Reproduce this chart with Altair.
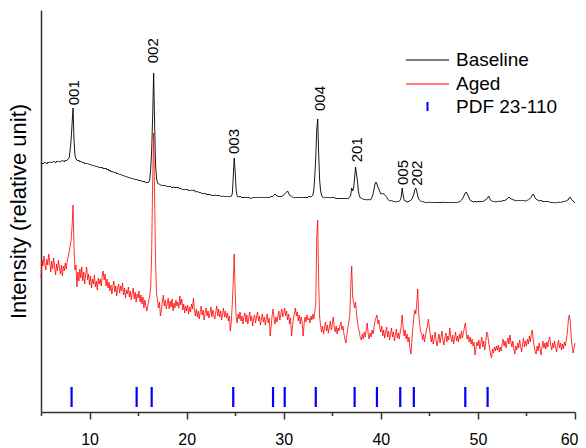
import altair as alt
import numpy as np
import pandas as pd

# 2-theta grid of the scan (degrees)
two_theta_start = 5.0
two_theta_step = 0.1

# Baseline sample, relative intensity, one row per degree (x.0 ... x.9)
baseline_intensity = [
    248, 249, 248, 249, 250, 249, 248, 250, 249, 250,  # 5
    250, 249, 250, 251, 250, 249, 251, 250, 251, 250,  # 6
    250, 251, 252, 251, 250, 252, 251, 252, 253, 254,  # 7
    262, 272, 288, 304, 272, 257, 253, 252, 251, 252,  # 8
    250, 251, 250, 249, 250, 248, 249, 248, 249, 248,  # 9
    247, 248, 247, 246, 247, 246, 246, 245, 246, 245,  # 10
    244, 245, 244, 245, 243, 244, 243, 244, 242, 243,  # 11
    241, 242, 240, 241, 240, 240, 239, 240, 238, 239,  # 12
    238, 237, 238, 237, 236, 237, 236, 235, 236, 235,  # 13
    234, 235, 234, 233, 234, 233, 233, 232, 233, 232,  # 14
    232, 231, 232, 231, 231, 230, 231, 230, 229, 230,  # 15
    229, 230, 232, 243, 262, 295, 339, 290, 246, 234,  # 16
    229, 228, 228, 227, 227, 226, 227, 226, 227, 226,  # 17
    225, 226, 225, 226, 225, 224, 225, 225, 224, 225,  # 18
    224, 225, 224, 223, 224, 223, 222, 223, 222, 223,  # 19
    222, 223, 221, 222, 221, 222, 222, 221, 222, 220,  # 20
    220, 221, 220, 219, 220, 219, 218, 219, 218, 219,  # 21
    218, 217, 218, 217, 218, 217, 216, 217, 216, 217,  # 22
    217, 216, 217, 216, 217, 216, 215, 216, 216, 215,  # 23
    216, 215, 216, 215, 216, 215, 216, 218, 235, 254,  # 24
    240, 222, 216, 215, 215, 216, 215, 214, 215, 214,  # 25
    215, 214, 215, 214, 215, 214, 213, 214, 215, 214,  # 26
    215, 214, 215, 214, 215, 214, 215, 214, 215, 214,  # 27
    215, 214, 215, 214, 215, 214, 215, 216, 215, 216,  # 28
    217, 218, 217, 216, 216, 215, 216, 215, 216, 216,  # 29
    217, 218, 219, 220, 221, 219, 217, 216, 216, 215,  # 30
    214, 215, 214, 215, 214, 215, 214, 215, 214, 215,  # 31
    214, 215, 214, 215, 214, 215, 216, 215, 215, 216,  # 32
    217, 222, 236, 255, 282, 293, 258, 232, 221, 217,  # 33
    215, 214, 215, 214, 215, 214, 215, 214, 215, 214,  # 34
    215, 214, 215, 214, 213, 214, 213, 214, 213, 214,  # 35
    213, 214, 213, 214, 213, 214, 213, 214, 215, 217,  # 36
    224, 221, 224, 234, 245, 238, 230, 220, 216, 214,  # 37
    214, 213, 213, 212, 213, 212, 212, 213, 212, 212,  # 38
    213, 215, 218, 223, 228, 230, 228, 225, 223, 220,  # 39
    218, 218, 219, 218, 217, 216, 215, 213, 212, 211,  # 40
    211, 212, 211, 210, 211, 210, 210, 211, 210, 211,  # 41
    212, 215, 224, 217, 212, 211, 211, 210, 210, 211,  # 42
    211, 212, 213, 215, 218, 222, 224, 221, 216, 213,  # 43
    212, 211, 210, 211, 210, 210, 209, 210, 209, 210,  # 44
    210, 209, 210, 209, 210, 209, 210, 209, 210, 209,  # 45
    210, 209, 210, 209, 210, 210, 209, 210, 209, 210,  # 46
    209, 210, 209, 210, 209, 210, 209, 210, 209, 210,  # 47
    210, 210, 211, 212, 213, 215, 217, 219, 220, 218,  # 48
    216, 214, 212, 211, 211, 210, 210, 211, 210, 210,  # 49
    211, 210, 211, 210, 211, 210, 211, 212, 212, 213,  # 50
    214, 216, 214, 212, 211, 211, 210, 211, 210, 210,  # 51
    211, 210, 211, 211, 210, 211, 212, 211, 212, 212,  # 52
    213, 214, 215, 214, 213, 213, 212, 212, 212, 211,  # 53
    211, 212, 211, 212, 211, 212, 211, 212, 211, 211,  # 54
    211, 212, 212, 213, 214, 215, 217, 218, 216, 214,  # 55
    213, 212, 212, 211, 211, 212, 211, 210, 211, 210,  # 56
    211, 210, 211, 210, 210, 209, 210, 209, 210, 209,  # 57
    209, 210, 209, 210, 210, 209, 210, 210, 211, 210,  # 58
    211, 211, 212, 212, 214, 215, 213, 212, 211, 210,  # 59
    209,                                               # 60
]

# Aged sample, relative intensity, one row per degree (x.0 ... x.9)
aged_intensity = [
    134, 152, 146, 156, 148, 142, 153, 147, 158, 150,  # 5
    140, 151, 143, 154, 145, 137, 148, 141, 152, 144,  # 6
    138, 147, 136, 146, 141, 149, 143, 151, 155, 160,  # 7
    166, 172, 185, 207, 165, 142, 147, 125, 140, 131,  # 8
    143, 134, 145, 131, 140, 128, 137, 145, 132, 138,  # 9
    127, 136, 124, 133, 128, 137, 125, 131, 122, 134,  # 10
    128, 133, 126, 136, 141, 132, 138, 126, 133, 124,  # 11
    130, 121, 127, 118, 125, 131, 120, 126, 116, 124,  # 12
    128, 119, 126, 121, 129, 117, 124, 114, 122, 118,  # 13
    125, 115, 121, 112, 119, 124, 113, 120, 110, 118,  # 14
    114, 121, 110, 117, 108, 115, 104, 112, 106, 101,  # 15
    106, 112, 116, 125, 160, 230, 279, 215, 150, 118,  # 16
    112, 104, 110, 96, 102, 110, 117, 106, 112, 103,   # 17
    108, 114, 103, 111, 105, 113, 101, 109, 104, 112,  # 18
    106, 110, 104, 116, 107, 113, 102, 108, 99, 106,   # 19
    101, 107, 98, 105, 100, 108, 103, 114, 102, 96,    # 20
    103, 95, 101, 93, 100, 106, 97, 102, 92, 99,       # 21
    104, 96, 101, 94, 99, 105, 95, 102, 97, 93,        # 22
    100, 106, 96, 103, 95, 101, 92, 98, 104, 95,       # 23
    101, 94, 99, 91, 96, 81, 90, 108, 130, 158,        # 24
    120, 95, 89, 98, 93, 100, 91, 96, 88, 95,          # 25
    99, 90, 97, 88, 94, 100, 91, 96, 86, 93,           # 26
    97, 89, 95, 100, 91, 96, 87, 93, 98, 90,           # 27
    95, 87, 93, 98, 89, 94, 76, 85, 96, 103,           # 28
    94, 88, 95, 90, 96, 101, 92, 98, 103, 95,          # 29
    99, 104, 96, 101, 92, 98, 88, 94, 76, 85,          # 30
    93, 99, 104, 96, 100, 91, 97, 88, 95, 90,          # 31
    76, 88, 95, 90, 97, 92, 94, 89, 96, 92,            # 32
    98, 93, 100, 108, 175, 192, 128, 95, 86, 80,       # 33
    86, 78, 84, 90, 81, 87, 79, 85, 91, 82,            # 34
    88, 95, 85, 80, 86, 78, 84, 81, 87, 90,            # 35
    82, 86, 78, 73, 69, 77, 84, 90, 96, 125,           # 36
    146, 115, 109, 104, 110, 98, 90, 84, 79, 74,       # 37
    72, 78, 73, 80, 75, 82, 89, 78, 73, 79,            # 38
    75, 82, 78, 85, 91, 94, 97, 88, 92, 84,            # 39
    80, 86, 76, 82, 74, 79, 85, 75, 81, 72,            # 40
    78, 84, 75, 80, 71, 77, 83, 74, 79, 73,            # 41
    80, 86, 97, 84, 76, 82, 73, 78, 70, 75,            # 42
    64, 58, 72, 84, 95, 102, 98, 108, 123, 98,         # 43
    88, 80, 79, 72, 78, 70, 76, 82, 86, 93,            # 44
    84, 76, 70, 77, 68, 74, 80, 71, 66, 73,            # 45
    78, 69, 75, 81, 72, 67, 74, 79, 70, 76,            # 46
    72, 84, 76, 70, 77, 68, 74, 80, 71, 76,            # 47
    70, 78, 73, 81, 74, 79, 84, 89, 80, 73,            # 48
    77, 70, 75, 68, 73, 66, 70, 57, 64, 70,            # 49
    66, 72, 63, 69, 75, 65, 71, 62, 68, 80,            # 50
    78, 70, 64, 58, 54, 63, 59, 65, 61, 66,            # 51
    62, 67, 60, 65, 61, 68, 73, 66, 71, 64,            # 52
    70, 74, 68, 77, 70, 65, 71, 63, 58, 66,            # 53
    62, 69, 64, 72, 66, 60, 68, 74, 65, 71,            # 54
    66, 73, 68, 76, 70, 78, 82, 72, 66, 60,            # 55
    58, 66, 61, 69, 63, 57, 65, 71, 64, 69,            # 56
    63, 70, 65, 72, 75, 67, 62, 69, 64, 71,            # 57
    65, 60, 67, 72, 64, 69, 62, 68, 63, 70,            # 58
    66, 72, 78, 90, 97, 92, 76, 66, 59, 64,            # 59
    69,                                                # 60
]

# Reference pattern PDF 23-110 line positions (2-theta)
pdf_positions = [8.15, 14.85, 16.4, 24.8, 28.9, 30.1, 33.3, 37.3, 39.6, 42.0, 43.4, 48.7, 51.0]

# Peak index labels
peak_labels = ["001", "002", "003", "004", "201", "005", "202"]
peak_label_x = [8.4, 16.57, 24.9, 33.74, 37.52, 42.25, 43.70]
peak_label_y = [306.7, 348.7, 258.0, 301.0, 249.7, 227.0, 226.3]

x_tick_values = [5, 10, 15, 20, 25, 30, 35, 40, 45, 50, 55, 60]

series_names = ["Baseline", "Aged"]
series_colors = ["#000000", "#ff0000"]
ref_name = "PDF 23-110"

n_base = len(baseline_intensity)
n_aged = len(aged_intensity)
df_base = pd.DataFrame({
    "two_theta": np.round(two_theta_start + two_theta_step * np.arange(n_base), 1),
    "intensity": baseline_intensity,
    "series": series_names[0],
})
df_aged = pd.DataFrame({
    "two_theta": np.round(two_theta_start + two_theta_step * np.arange(n_aged), 1),
    "intensity": aged_intensity,
    "series": series_names[1],
})
df_pdf = pd.DataFrame({"two_theta": pdf_positions, "ref": ref_name})
df_lab = pd.DataFrame({"x": peak_label_x, "y": peak_label_y, "label": peak_labels})

FONT = "Liberation Sans"
AXIS_COLOR = "#333333"

xscale = alt.Scale(domain=[5, 60], nice=False, zero=False)
yscale = alt.Scale(domain=[0, 402], nice=False, zero=False)

x_axis = alt.Axis(
    title=None,
    values=x_tick_values,
    labelExpr="datum.value % 10 === 0 ? datum.label : ''",
    tickSize={"condition": {"test": "datum.value % 10 === 0", "value": 7}, "value": 3.5},
    tickWidth=1.5,
    tickColor=AXIS_COLOR,
    domainColor=AXIS_COLOR,
    domainWidth=1.5,
    labelFontSize=16,
    labelFont=FONT,
    labelColor="black",
    labelPadding=12,
    labelFlush=True,
    labelFlushOffset=3,
    labelOverlap=False,
    grid=False,
)
y_axis = alt.Axis(
    title="Intensity (relative unit)",
    labels=False,
    ticks=False,
    grid=False,
    domainColor=AXIS_COLOR,
    domainWidth=1.5,
    titleFont=FONT,
    titleFontSize=22,
    titleFontWeight="normal",
    titleColor="black",
    titlePadding=11,
)

color_scale = alt.Scale(domain=series_names, range=series_colors)
line_legend = alt.Legend(
    title=None, orient="none", legendX=377, legendY=40.5, padding=0,
    symbolType="M-4.3,0H4.3", symbolSize=100, symbolStrokeWidth=1,
    labelFont=FONT, labelFontSize=19, labelColor="black",
    labelOffset=19, rowPadding=4,
)
pdf_legend = alt.Legend(
    title=None, orient="none", legendX=377, legendY=87, padding=0,
    symbolType="M0,-0.9V0.9", symbolSize=100, symbolStrokeWidth=2,
    labelFont=FONT, labelFontSize=19, labelColor="black",
    labelOffset=19,
)

base_line = alt.Chart(df_base).mark_line(strokeWidth=0.9).encode(
    x=alt.X("two_theta:Q", scale=xscale, axis=x_axis),
    y=alt.Y("intensity:Q", scale=yscale, axis=y_axis),
    color=alt.Color("series:N", scale=color_scale, legend=line_legend),
)
aged_line = alt.Chart(df_aged).mark_line(strokeWidth=0.8).encode(
    x=alt.X("two_theta:Q"),
    y=alt.Y("intensity:Q"),
    color=alt.Color("series:N", scale=color_scale, legend=line_legend),
)
pdf_sticks = alt.Chart(df_pdf).mark_rule(strokeWidth=2.2).encode(
    x=alt.X("two_theta:Q"),
    y=alt.datum(5),
    y2=alt.datum(25),
    stroke=alt.Stroke("ref:N", scale=alt.Scale(domain=[ref_name], range=["#0000ff"]), legend=pdf_legend),
)
labels = alt.Chart(df_lab).mark_text(
    angle=270, align="left", baseline="middle", fontSize=15, font=FONT, color="black"
).encode(
    x=alt.X("x:Q"),
    y=alt.Y("y:Q"),
    text=alt.Text("label:N"),
)

chart = alt.layer(base_line, aged_line, pdf_sticks, labels).properties(
    width=534,
    height=402,
    padding={"left": 33, "top": 2, "right": 3, "bottom": 36},
    autosize=alt.AutoSizeParams(type="none"),
).configure(font=FONT).configure_view(stroke=None)

chart.save("out.html", embed_options={"renderer": "svg", "actions": False})
